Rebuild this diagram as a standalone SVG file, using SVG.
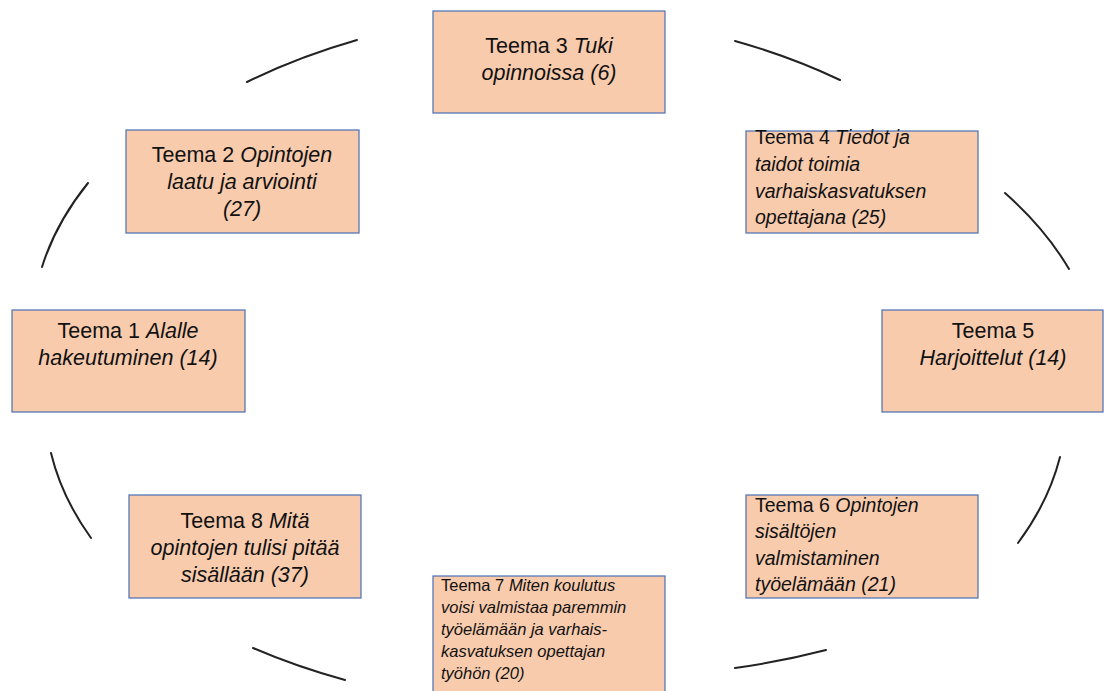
<svg xmlns="http://www.w3.org/2000/svg" width="1104" height="691" viewBox="0 0 1104 691">
<style>
.box{fill:#F8CBAD;stroke:#4A6FB5;stroke-width:1.2}
.arc{fill:none;stroke:#222;stroke-width:2;stroke-linecap:round}
text{font-family:"Liberation Sans",Arial,sans-serif;fill:#111}
.m{font-size:21.5px;text-anchor:middle}
.s{font-size:19.5px}
.xs{font-size:16.5px}
.i{font-style:italic}
</style>
<rect width="1104" height="691" fill="#fff"/>
<g id="connectors">
<path class="arc" d="M247,82 A540,330 0 0 1 357,40"/>
<path class="arc" d="M735,41 A540,330 0 0 1 840,80"/>
<path class="arc" d="M1005,193 A540,330 0 0 1 1069,269"/>
<path class="arc" d="M1060,457 A540,330 0 0 1 1018,543"/>
<path class="arc" d="M826,650 A540,330 0 0 1 735,668"/>
<path class="arc" d="M345,680 A540,330 0 0 1 253,648"/>
<path class="arc" d="M91,538 A540,330 0 0 1 51,453"/>
<path class="arc" d="M42,267 A540,330 0 0 1 88,183"/>
</g>
<g id="teema1">
<rect class="box" x="12" y="310" width="233" height="102"/>
<text class="m" x="128" y="338">Teema 1 <tspan class="i">Alalle</tspan></text>
<text class="m i" x="128" y="365">hakeutuminen (14)</text>
</g>
<g id="teema2">
<rect class="box" x="126" y="130" width="233" height="103"/>
<text class="m" x="242" y="162">Teema 2 <tspan class="i">Opintojen</tspan></text>
<text class="m i" x="242" y="189">laatu ja arviointi</text>
<text class="m i" x="242" y="216">(27)</text>
</g>
<g id="teema3">
<rect class="box" x="433" y="11" width="232" height="102"/>
<text class="m" x="549" y="53">Teema 3 <tspan class="i">Tuki</tspan></text>
<text class="m i" x="549" y="80">opinnoissa (6)</text>
</g>
<g id="teema4">
<rect class="box" x="746" y="131" width="232" height="102"/>
<text class="s" x="755" y="144">Teema 4 <tspan class="i">Tiedot ja</tspan></text>
<text class="s i" x="755" y="171">taidot toimia</text>
<text class="s i" x="755" y="198">varhaiskasvatuksen</text>
<text class="s i" x="755" y="224">opettajana (25)</text>
</g>
<g id="teema5">
<rect class="box" x="882" y="310" width="221" height="102"/>
<text class="m" x="993" y="338">Teema 5</text>
<text class="m i" x="993" y="365">Harjoittelut (14)</text>
</g>
<g id="teema6">
<rect class="box" x="746" y="495" width="232" height="103"/>
<text class="s" x="755" y="512">Teema 6 <tspan class="i">Opintojen</tspan></text>
<text class="s i" x="755" y="538">sisältöjen</text>
<text class="s i" x="755" y="565">valmistaminen</text>
<text class="s i" x="755" y="591">työelämään (21)</text>
</g>
<g id="teema7">
<rect class="box" x="433" y="576" width="232" height="120"/>
<text class="xs" x="441" y="591">Teema 7 <tspan class="i">Miten koulutus</tspan></text>
<text class="xs i" x="441" y="613">voisi valmistaa paremmin</text>
<text class="xs i" x="441" y="635">työelämään ja varhais-</text>
<text class="xs i" x="441" y="657">kasvatuksen opettajan</text>
<text class="xs i" x="441" y="679">työhön (20)</text>
</g>
<g id="teema8">
<rect class="box" x="129" y="495" width="232" height="103"/>
<text class="m" x="245" y="528">Teema 8 <tspan class="i">Mitä</tspan></text>
<text class="m i" x="245" y="555">opintojen tulisi pitää</text>
<text class="m i" x="245" y="582">sisällään (37)</text>
</g>
</svg>
